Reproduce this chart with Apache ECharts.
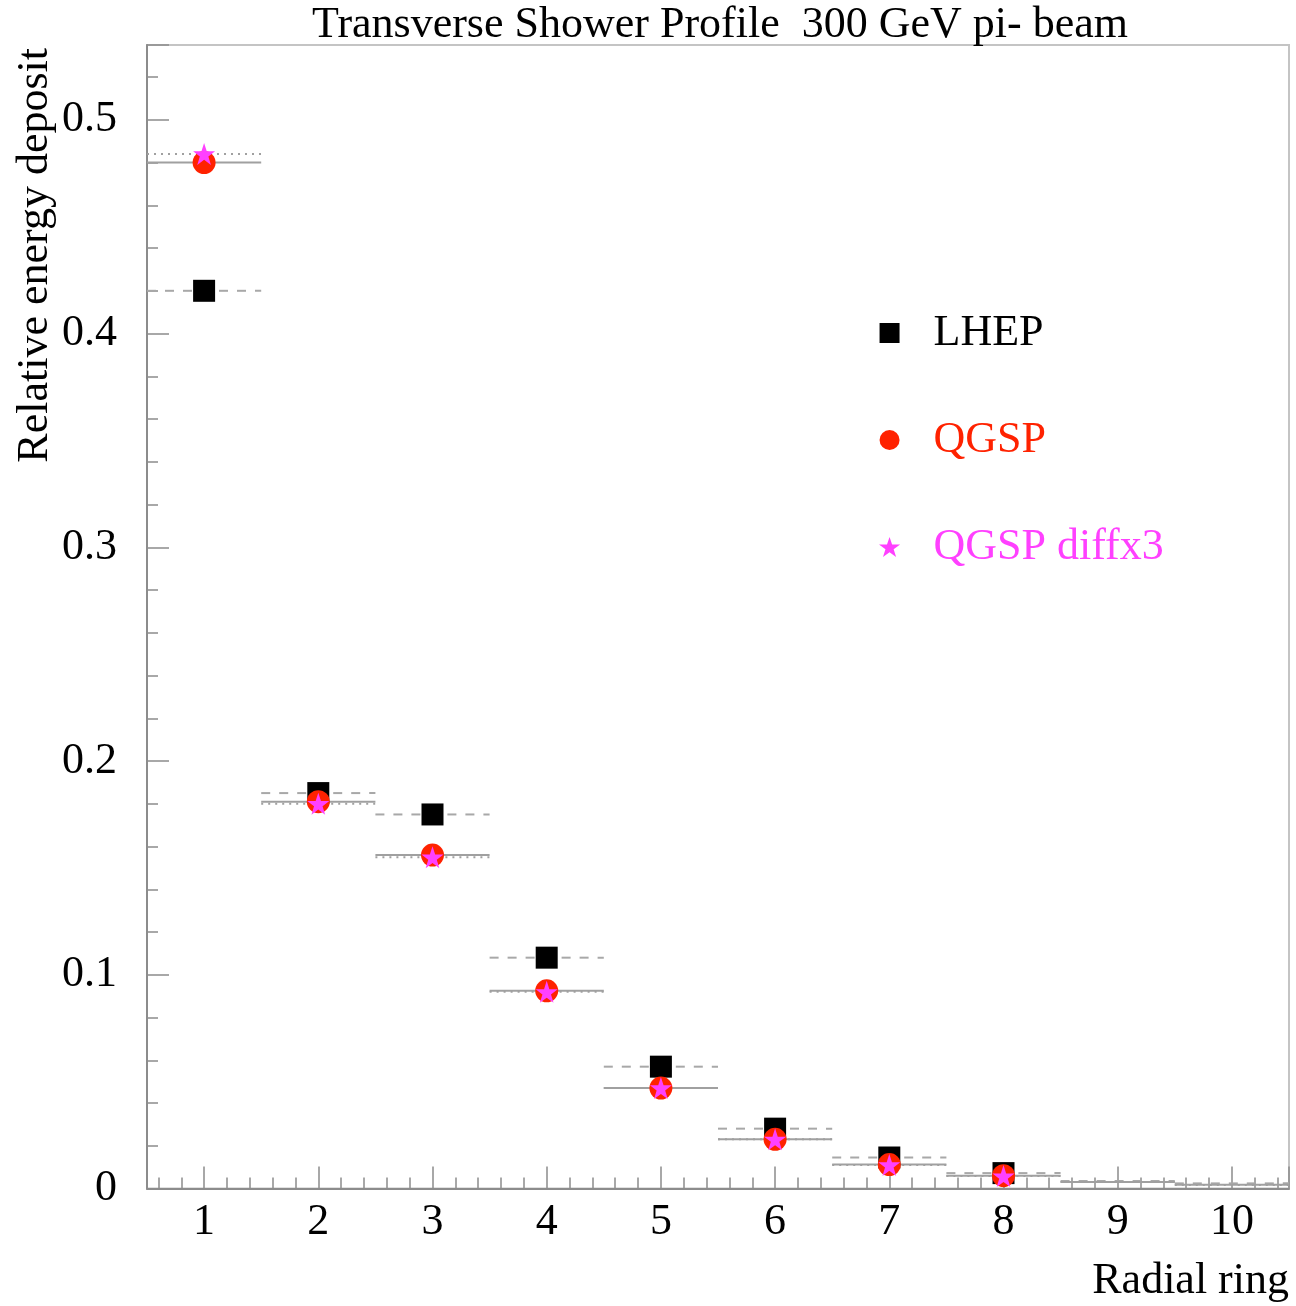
<!DOCTYPE html>
<html>
<head>
<meta charset="utf-8">
<script src="https://cdn.jsdelivr.net/npm/echarts@6/dist/echarts.min.js"></script>
<style>
  html, body { margin: 0; padding: 0; background: #fff; }
  #chart { width: 1296px; height: 1306px; }
</style>
</head>
<body>
<div id="chart"></div>
<script>
// Radial rings of the calorimeter
const rings = [1, 2, 3, 4, 5, 6, 7, 8, 9, 10];
// Relative energy deposited per ring for each physics list
const lhep       = [0.420, 0.185, 0.175, 0.108, 0.057, 0.028, 0.0145, 0.0072, 0.0035, 0.0024];
const qgsp       = [0.480, 0.181, 0.156, 0.0925, 0.047, 0.023, 0.0112, 0.006, 0.003, 0.0017];
const qgspDiffx3 = [0.484, 0.180, 0.155, 0.092, 0.047, 0.023, 0.011, 0.0058, 0.003, 0.0016];
// Markers are shown for the first rings only
const markedRings = 8;
const yTickLabels = ['0', '0.1', '0.2', '0.3', '0.4', '0.5'];

const FONT = '"Liberation Serif", "DejaVu Serif", serif';
const FS = 44;
const STAR = 'path://M50,0 L61.8,35.1 L98.9,35.1 L69,57 L80.4,92.7 L50,71 L19.6,92.7 L31,57 L1.1,35.1 L38.2,35.1 Z';
const SQUARE = 'path://M0,0 L10,0 L10,10 L0,10 Z';

const chart = echarts.init(document.getElementById('chart'), null, { renderer: 'canvas' });

function pairs(values, n) {
  return rings.slice(0, n).map((r, i) => [r, values[i]]);
}

// Horizontal bin line spanning each ring's width
function binLines(values, dash, color, z) {
  return {
    type: 'custom',
    clip: true,
    silent: true,
    z: z,
    data: pairs(values, rings.length),
    encode: { x: 0, y: 1 },
    renderItem: function (params, api) {
      const x = api.value(0), y = api.value(1);
      const a = api.coord([x - 0.5, y]);
      const b = api.coord([x + 0.5, y]);
      return {
        type: 'line',
        shape: { x1: a[0], y1: a[1], x2: b[0], y2: b[1] },
        style: { stroke: color, lineWidth: 2, lineDash: dash }
      };
    }
  };
}

const option = {
  animation: false,
  backgroundColor: '#ffffff',
  title: {
    text: 'Transverse Shower Profile  300 GeV pi- beam',
    left: 720,
    textAlign: 'center',
    top: 3,
    padding: 0,
    textStyle: { fontFamily: FONT, fontSize: FS, fontWeight: 'normal', color: '#000' }
  },
  legend: {
    orient: 'vertical',
    left: 879,
    top: 311,
    padding: 0,
    itemWidth: 78,
    itemHeight: 20,
    itemGap: 63,
    selectedMode: false,
    textStyle: { fontFamily: FONT, fontSize: FS, lineHeight: 44 },
    data: [
      { name: 'LHEP', textStyle: { color: '#000000' } },
      { name: 'QGSP', textStyle: { color: '#ff2200' } },
      { name: 'QGSP diffx3', textStyle: { color: '#ff40ff' } }
    ]
  },
  grid: {
    left: 147, right: 7, top: 45, bottom: 117.5,
    show: true, borderColor: '#c4c4c4', borderWidth: 2, backgroundColor: 'transparent'
  },
  xAxis: {
    type: 'value',
    min: 0.5,
    max: 10.5,
    splitNumber: 10,
    axisLine: { onZero: false, lineStyle: { color: '#8c8c8c', width: 2 } },
    axisTick: { inside: true, length: 22, lineStyle: { color: '#8c8c8c', width: 1.5 } },
    minorTick: { show: true, splitNumber: 5, length: 11, lineStyle: { color: '#8c8c8c', width: 1.5 } },
    splitLine: { show: false },
    axisLabel: {
      margin: 12,
      fontFamily: FONT, fontSize: FS, color: '#000',
      formatter: v => Number.isInteger(v) ? String(v) : ''
    }
  },
  yAxis: {
    type: 'value',
    min: 0,
    max: 0.535,
    interval: 0.1,
    axisLine: { lineStyle: { color: '#8c8c8c', width: 2 } },
    axisTick: { inside: true, length: 22, lineStyle: { color: '#8c8c8c', width: 1.5 } },
    minorTick: { show: true, splitNumber: 5, length: 11, lineStyle: { color: '#8c8c8c', width: 1.5 } },
    splitLine: { show: false },
    axisLabel: {
      margin: 30,
      fontFamily: FONT, fontSize: FS, color: '#000',
      formatter: v => {
        const i = Math.round(v * 10);
        return Math.abs(v * 10 - i) < 1e-6 && i < yTickLabels.length ? yTickLabels[i] : '';
      }
    }
  },
  graphic: [
    {
      type: 'text',
      x: 35, y: 48,
      rotation: Math.PI / 2,
      style: {
        text: 'Relative energy deposit',
        font: FS + 'px ' + FONT,
        fill: '#000',
        textAlign: 'right',
        textVerticalAlign: 'middle'
      }
    },
    {
      type: 'text',
      x: 1289, y: 1281,
      style: {
        text: 'Radial ring',
        font: FS + 'px ' + FONT,
        fill: '#000',
        textAlign: 'right',
        textVerticalAlign: 'middle'
      }
    }
  ],
  series: [
    binLines(lhep, [9, 9], '#a8a8a8', 2),
    binLines(qgsp, null, '#a0a0a0', 2),
    binLines(qgspDiffx3, [2, 5], '#a0a0a0', 2),
    {
      name: 'LHEP', type: 'scatter', z: 3,
      symbol: SQUARE, symbolSize: 22,
      itemStyle: { color: '#000000', opacity: 1 },
      data: pairs(lhep, markedRings)
    },
    {
      name: 'QGSP', type: 'scatter', z: 4,
      symbol: 'circle', symbolSize: 23,
      itemStyle: { color: '#ff2200', opacity: 1 },
      data: pairs(qgsp, markedRings)
    },
    {
      name: 'QGSP diffx3', type: 'scatter', z: 5,
      symbol: STAR, symbolSize: 22,
      itemStyle: { color: '#ff40ff', opacity: 1 },
      data: pairs(qgspDiffx3, markedRings)
    }
  ]
};

chart.setOption(option);
</script>
</body>
</html>
